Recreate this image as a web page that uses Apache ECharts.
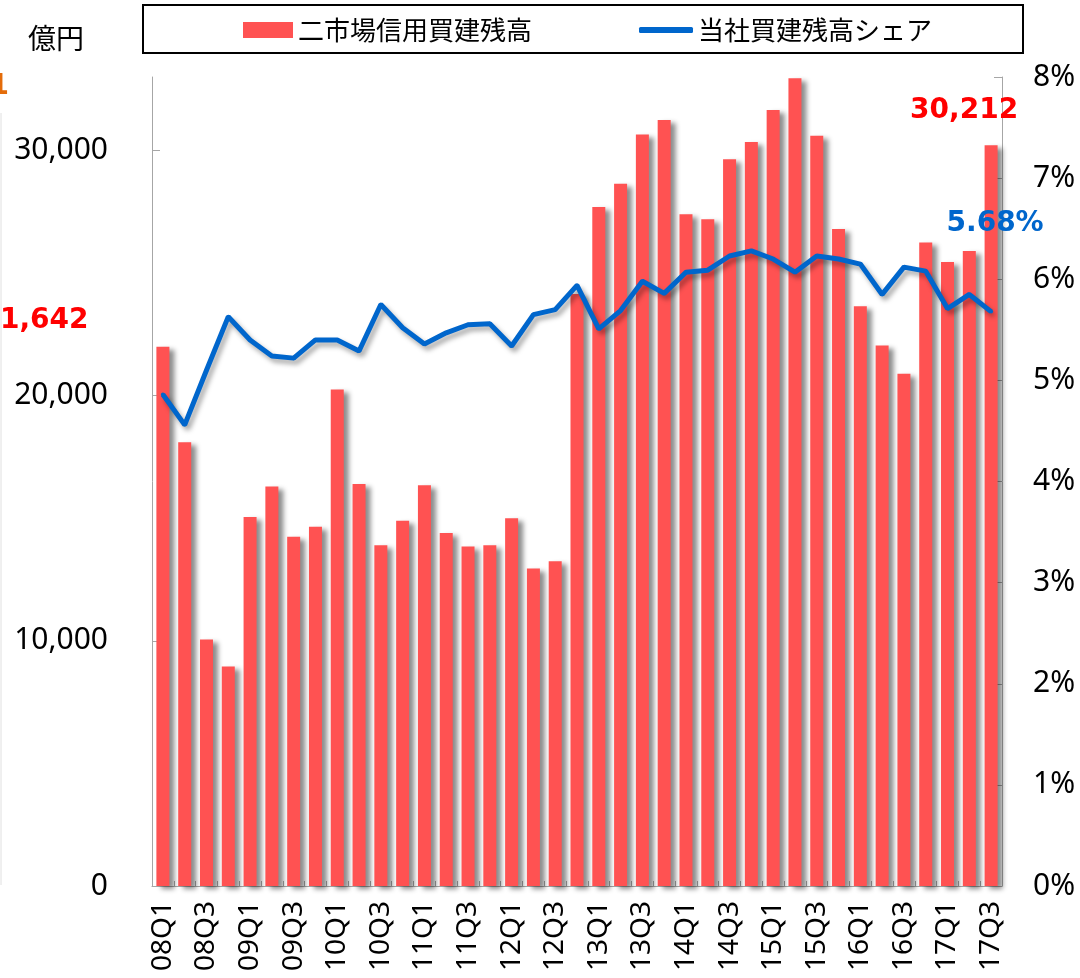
<!DOCTYPE html>
<html>
<head>
<meta charset="utf-8">
<title>二市場信用買建残高</title>
<script src="https://cdn.jsdelivr.net/npm/echarts@6/dist/echarts.min.js"></script>
<style>
  html, body { margin: 0; padding: 0; background: #fff; }
  #chart { width: 1080px; height: 978px; }
</style>
</head>
<body>
<div id="chart"></div>
<script>
// 四半期
var categories = [
  "08Q1", "08Q2", "08Q3", "08Q4", "09Q1", "09Q2", "09Q3", "09Q4",
  "10Q1", "10Q2", "10Q3", "10Q4", "11Q1", "11Q2", "11Q3", "11Q4",
  "12Q1", "12Q2", "12Q3", "12Q4", "13Q1", "13Q2", "13Q3", "13Q4",
  "14Q1", "14Q2", "14Q3", "14Q4", "15Q1", "15Q2", "15Q3", "15Q4",
  "16Q1", "16Q2", "16Q3", "16Q4", "17Q1", "17Q2", "17Q3"
];
// 二市場信用買建残高（億円）
var marketBalance = [
  22000, 18100, 10050, 8950, 15050, 16300, 14250, 14650,
  20250, 16400, 13900, 14900, 16350, 14400, 13850, 13900,
  15000, 12950, 13250, 24150, 27700, 28650, 30650, 31250,
  27400, 27200, 29650, 30350, 31650, 32950, 30600, 26800,
  23650, 22050, 20900, 26250, 25450, 25900, 30212
];
// 当社買建残高シェア（%）
var companyShare = [
  4.86, 4.56, 5.10, 5.63, 5.40, 5.24, 5.22, 5.40,
  5.40, 5.29, 5.75, 5.52, 5.36, 5.47, 5.55, 5.56,
  5.34, 5.65, 5.70, 5.94, 5.51, 5.69, 5.98, 5.86,
  6.07, 6.09, 6.23, 6.28, 6.20, 6.07, 6.23, 6.20,
  6.15, 5.85, 6.12, 6.08, 5.71, 5.85, 5.68
];
// 目盛
var leftTicks = [0, 10000, 20000, 30000];
var rightTicks = [0, 1, 2, 3, 4, 5, 6, 7, 8];

var barName = "二市場信用買建残高";
var lineName = "当社買建残高シェア";

var numFont = "Noto Sans";
var jpFont = "Noto Sans CJK JP";
var last = categories.length - 1;

var barData = marketBalance.map(function (v, i) {
  if (i !== last) return v;
  return {
    value: v,
    label: {
      show: true,
      position: "top",
      offset: [-27, -16],
      formatter: function (p) { return p.value.toLocaleString("en-US"); },
      color: "#FF0000",
      fontFamily: "DejaVu Sans",
      fontWeight: "bold",
      fontSize: 28
    }
  };
});

var lineData = companyShare.map(function (v, i) {
  if (i !== last) return v;
  return {
    value: v,
    label: {
      show: true,
      position: "top",
      offset: [4, -67],
      formatter: function (p) { return p.value.toFixed(2) + "%"; },
      color: "#0066CC",
      fontFamily: "DejaVu Sans",
      fontWeight: "bold",
      fontSize: 28
    }
  };
});

var chart = echarts.init(document.getElementById("chart"));

var option = {
  backgroundColor: "#fff",
  animation: false,
  grid: { left: 152, right: 78, top: 77, bottom: 92 },
  legend: [
    {
      data: [barName],
      left: 243,
      top: 17,
      padding: 0,
      itemWidth: 50,
      itemHeight: 16,
      icon: "rect",
      itemStyle: { shadowBlur: 0, shadowOffsetX: 0, shadowOffsetY: 0, shadowColor: "transparent" },
      textStyle: { fontFamily: jpFont, fontSize: 26, color: "#000" }
    },
    {
      data: [lineName],
      left: 639,
      top: 17,
      padding: 0,
      itemWidth: 54,
      itemHeight: 6,
      icon: "roundRect",
      itemStyle: { color: "#0066CC", shadowBlur: 0, shadowOffsetX: 0, shadowOffsetY: 0, shadowColor: "transparent" },
      textStyle: { fontFamily: jpFont, fontSize: 26, color: "#000" }
    }
  ],
  xAxis: {
    type: "category",
    data: categories,
    boundaryGap: true,
    axisLine: { lineStyle: { color: "#A6A6A6", width: 1 } },
    axisTick: { show: true, inside: true, length: 5, interval: 0, lineStyle: { color: "#A6A6A6" } },
    axisLabel: {
      interval: 1,
      rotate: 90,
      margin: 15,
      color: "#000",
      fontFamily: numFont,
      fontSize: 28
    },
    splitLine: { show: false }
  },
  yAxis: [
    {
      type: "value",
      min: 0,
      max: 33000,
      interval: 10000,
      axisLine: { show: true, lineStyle: { color: "#A6A6A6" } },
      axisTick: { show: true, inside: true, length: 8, customValues: leftTicks, lineStyle: { color: "#A6A6A6" } },
      axisLabel: {
        showMaxLabel: false,
        margin: 44,
        color: "#000",
        fontFamily: numFont,
        fontSize: 30,
        formatter: function (v) { return v.toLocaleString("en-US"); }
      },
      splitLine: { show: false }
    },
    {
      type: "value",
      min: 0,
      max: 8,
      interval: 1,
      position: "right",
      axisLine: { show: true, lineStyle: { color: "#A6A6A6" } },
      axisTick: { show: true, inside: true, length: 8, lineStyle: { color: "#A6A6A6" } },
      axisLabel: {
        margin: 31,
        color: "#000",
        fontFamily: numFont,
        fontSize: 30,
        formatter: function (v) { return rightTicks.indexOf(v) >= 0 ? v + "%" : ""; }
      },
      splitLine: { show: false }
    }
  ],
  series: [
    {
      name: barName,
      type: "bar",
      yAxisIndex: 0,
      barWidth: 13,
      data: barData,
      itemStyle: {
        color: "#FF5252",
        shadowColor: "rgba(0,0,0,0.45)",
        shadowBlur: 5,
        shadowOffsetX: 5,
        shadowOffsetY: 3
      }
    },
    {
      name: lineName,
      type: "line",
      yAxisIndex: 1,
      data: lineData,
      // ラベル表示のため小さな点を残す
      symbol: "circle",
      symbolSize: 4,
      showSymbol: true,
      showAllSymbol: true,
      z: 5,
      lineStyle: {
        color: "#0066CC",
        width: 5,
        shadowColor: "rgba(0,0,0,0.35)",
        shadowBlur: 5,
        shadowOffsetX: 3,
        shadowOffsetY: 4
      },
      itemStyle: { color: "#0066CC", borderWidth: 0 }
    }
  ],
  graphic: [
    // 凡例の枠
    {
      type: "rect",
      shape: { x: 143, y: 5, width: 880, height: 48 },
      style: { fill: "none", stroke: "#000", lineWidth: 2 },
      z: 10
    },
    // 単位
    {
      type: "text",
      x: 28, y: 38,
      style: { text: "億円", font: "28px 'Noto Sans CJK JP'", fill: "#000", textVerticalAlign: "middle" }
    },
    // 左端にはみ出した隣のグラフの一部
    {
      type: "text",
      x: 0, y: 321,
      style: { text: "1,642", font: "bold 28px 'DejaVu Sans'", fill: "#FF0000", textVerticalAlign: "middle" }
    },
    {
      type: "text",
      x: 9, y: 87,
      style: { text: "1", font: "bold 28px 'DejaVu Sans'", fill: "#E46C0A", textAlign: "right", textVerticalAlign: "middle" }
    },
    {
      type: "line",
      shape: { x1: 1, y1: 113, x2: 1, y2: 885 },
      style: { stroke: "#E0E0E0", lineWidth: 1 }
    }
  ]
};

chart.setOption(option);
</script>
</body>
</html>
